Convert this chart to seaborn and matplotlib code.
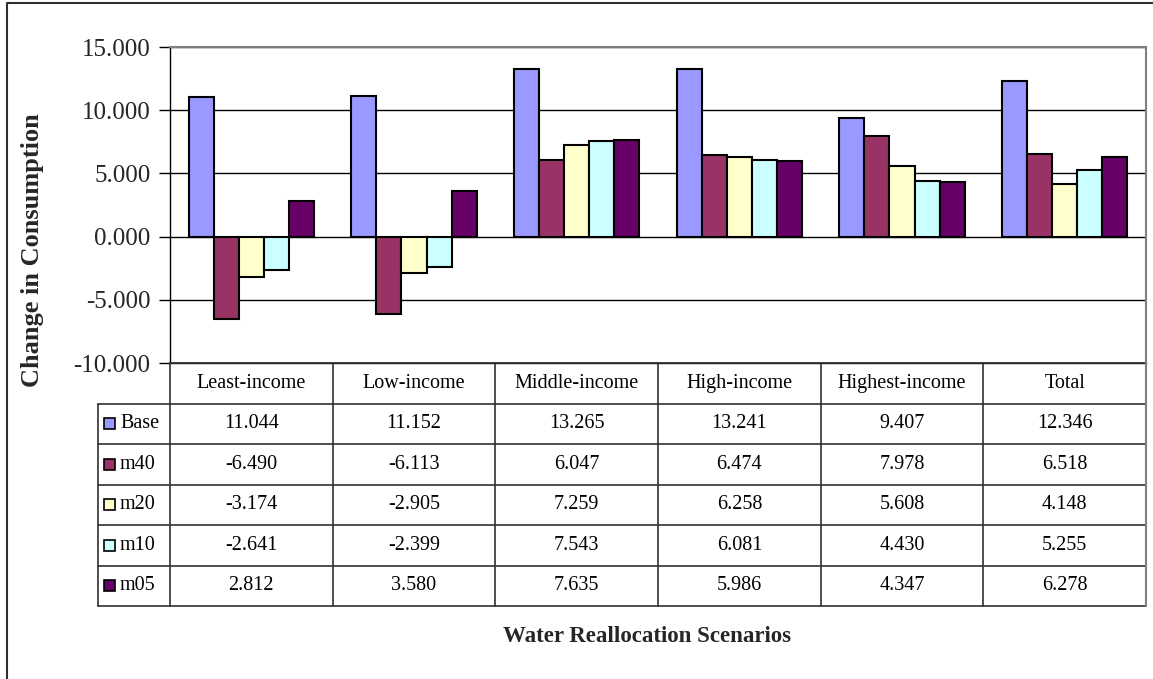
import matplotlib
matplotlib.use("Agg")
import matplotlib.pyplot as plt
import seaborn as sns
import pandas as pd
from matplotlib.patches import Rectangle
from matplotlib.lines import Line2D

# ---------------- data ----------------
categories = ["Least-income", "Low-income", "Middle-income", "High-income", "Highest-income", "Total"]
series = ["Base", "m40", "m20", "m10", "m05"]
base = [11.044, 11.152, 13.265, 13.241, 9.407, 12.346]
m40 = [-6.490, -6.113, 6.047, 6.474, 7.978, 6.518]
m20 = [-3.174, -2.905, 7.259, 6.258, 5.608, 4.148]
m10 = [-2.641, -2.399, 7.543, 6.081, 4.430, 5.255]
m05 = [2.812, 3.580, 7.635, 5.986, 4.347, 6.278]
colors = ["#9999FF", "#993366", "#FFFFCC", "#CCFFFF", "#660066"]
yticks = [-10, -5, 0, 5, 10, 15]
ylabel = "Change in Consumption"
xlabel = "Water Reallocation Scenarios"

values = {"Base": base, "m40": m40, "m20": m20, "m10": m10, "m05": m05}
df = pd.DataFrame([(c, s, values[s][i]) for s in series for i, c in enumerate(categories)],
                  columns=["Category", "Series", "Value"])

# ---------------- style ----------------
sns.set_style("white")
plt.rcParams["font.family"] = ["Liberation Serif", "DejaVu Serif"]

W, H = 1153, 679
fig = plt.figure(figsize=(W / 100, H / 100), dpi=100)
fig.patch.set_facecolor("white")


def px(x0, y0, x1, y1):
    return [x0 / W, 1 - y1 / H, (x1 - x0) / W, (y1 - y0) / H]


PL, PT, PR, PB = 170, 47, 1146, 363
ax = fig.add_axes(px(PL, PT, PR, PB))
sns.barplot(data=df, x="Category", y="Value", hue="Series", order=categories,
            hue_order=series, palette=colors, saturation=1, width=0.77,
            edgecolor="black", linewidth=1.5, errorbar=None, legend=False, ax=ax)
ax.set_xlim(-0.5, len(categories) - 0.5)
ax.set_ylim(yticks[0], yticks[-1])
ax.set_yticks(yticks)
ax.set_yticklabels([f"{v:.3f}" for v in yticks])
ax.set_xticks([])
ax.set_xlabel("")
ax.set_ylabel("")
ax.yaxis.grid(True, color="black", linewidth=1.0)
ax.set_axisbelow(True)
ax.tick_params(axis="y", direction="out", length=8, width=1, color="black",
               labelsize=18, pad=6, left=True)
for s in ["left", "bottom"]:
    ax.spines[s].set_color("black")
    ax.spines[s].set_linewidth(1.0)
for s in ["top", "right"]:
    ax.spines[s].set_color("#808080")
    ax.spines[s].set_linewidth(1.5)

# ---------------- data table ----------------
tax = fig.add_axes([0, 0, 1, 1], zorder=5)
tax.set_xlim(0, W)
tax.set_ylim(H, 0)
tax.axis("off")
tax.patch.set_alpha(0)

LEG_L = 98
row_h = (606 - PB) / 6.0
col_w = (PR - PL) / len(categories)
lc = "#303030"
lw = 1.2

# horizontal lines
for r in range(7):
    y = PB + r * row_h
    x0 = PL if r == 0 else LEG_L
    tax.add_line(Line2D([x0, PR], [y, y], color=lc, lw=lw))
# vertical lines
tax.add_line(Line2D([LEG_L, LEG_L], [PB + row_h, PB + 6 * row_h], color=lc, lw=lw))
for c in range(len(categories) + 1):
    x = PL + c * col_w
    col = "#808080" if c == len(categories) else lc
    tax.add_line(Line2D([x, x], [PB, PB + 6 * row_h], color=col, lw=lw if c < len(categories) else 1.5))

fs_tab = 14.5
for c, cat in enumerate(categories):
    tax.text(PL + (c + 0.5) * col_w, PB + 0.5 * row_h, cat, ha="center", va="center",
             fontsize=fs_tab, color="black")
for r, s in enumerate(series):
    yc = PB + (r + 1.5) * row_h
    tax.add_patch(Rectangle((104, yc - 5.5), 11, 11, facecolor=colors[r],
                            edgecolor="black", lw=1.2))
    tax.text(120, yc, s, ha="left", va="center", fontsize=fs_tab, color="black")
    for c in range(len(categories)):
        tax.text(PL + (c + 0.5) * col_w, yc, f"{values[s][c]:.3f}", ha="center",
                 va="center", fontsize=fs_tab, color="black")

# axis titles
tax.text(647, 637, xlabel, ha="center", va="center", fontsize=16.5, fontweight="bold")
tax.text(33, 250, ylabel, ha="center", va="center", rotation=90, fontsize=19,
         fontweight="bold")

# outer chart-area border
tax.add_line(Line2D([7, 7, W + 10], [H + 10, 3, 3], color="#303030", lw=1.5, clip_on=False))

fig.savefig("out.png", dpi=100, facecolor="white")
